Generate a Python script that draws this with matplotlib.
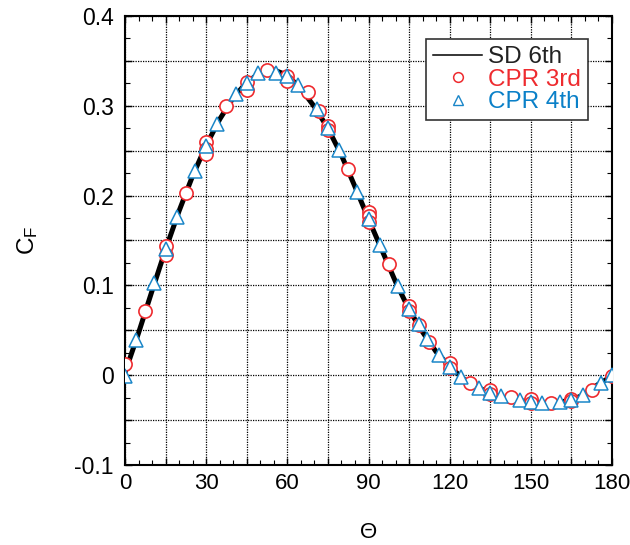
import matplotlib
matplotlib.use("Agg")
import matplotlib.pyplot as plt
from matplotlib.lines import Line2D
from matplotlib.ticker import MultipleLocator
import numpy as np

plt.rcParams['font.family'] = ['Liberation Sans', 'DejaVu Sans']
plt.rcParams['mathtext.fontset'] = 'custom'
plt.rcParams['mathtext.rm'] = 'Liberation Sans'
plt.rcParams['mathtext.it'] = 'Liberation Sans'

# SD 6th reference curve
sd_theta = [0, 5, 10, 15, 20, 25, 30, 35, 40, 45, 50, 55, 60, 65, 70, 75, 80, 85, 90,
            95, 100, 105, 110, 115, 120, 125, 130, 135, 140, 145, 150, 155, 160, 165,
            170, 175, 180]
sd_vals = [0.003, 0.047, 0.094, 0.140, 0.183, 0.222, 0.256, 0.285, 0.309, 0.326, 0.337,
           0.340, 0.334, 0.319, 0.299, 0.275, 0.245, 0.210, 0.174, 0.139, 0.104, 0.073,
           0.048, 0.026, 0.010, -0.004, -0.013, -0.020, -0.025, -0.028, -0.030, -0.031,
           -0.030, -0.028, -0.021, -0.010, -0.001]

# CPR 3rd
c_theta = [0, 7.5, 15, 15, 22.5, 30, 30, 30, 37.5, 45, 45, 52.5, 60, 60, 67.5, 71.7,
           75, 75, 82.5, 90, 90, 90, 97.5, 105, 105, 108.5, 112.5, 120, 120, 127.5,
           135, 135, 142.5, 150, 150, 157.5, 165, 165, 172.5, 180]
c_vals = [0.012, 0.071, 0.144, 0.134, 0.203, 0.260, 0.252, 0.246, 0.300, 0.326, 0.318,
          0.340, 0.333, 0.328, 0.315, 0.294, 0.277, 0.273, 0.230, 0.182, 0.177, 0.171,
          0.124, 0.077, 0.071, 0.056, 0.037, 0.014, 0.008, -0.0085, -0.016, -0.021,
          -0.024, -0.027, -0.031, -0.031, -0.026, -0.029, -0.016, -0.001]

# CPR 4th
t_theta = [0, 4.1, 10.9, 15, 19.1, 25.9, 30, 34.1, 40.9, 45, 49.1, 55.9, 60, 64.1, 70.9,
           75, 79.1, 85.9, 90, 94.1, 100.9, 105, 108.5, 111.8, 115.9, 120, 124.1, 130.9,
           135, 139.1, 145.9, 150, 154.1, 160.9, 165, 169.1, 175.9, 180]
t_vals = [-0.001, 0.039, 0.103, 0.140, 0.176, 0.227, 0.255, 0.2795, 0.313, 0.325, 0.337,
          0.337, 0.333, 0.323, 0.296, 0.275, 0.2505, 0.204, 0.174, 0.145, 0.0995, 0.074,
          0.057, 0.040, 0.022, 0.009, -0.002, -0.014, -0.020, -0.023, -0.028, -0.030,
          -0.031, -0.030, -0.028, -0.022, -0.009, 0.000]

xticks = [0, 30, 60, 90, 120, 150, 180]
yticks = [-0.1, 0, 0.1, 0.2, 0.3, 0.4]

RED = '#ee2b2f'
BLUE = '#1a86c8'

fig = plt.figure(figsize=(6.3, 5.45), dpi=100)
ax = fig.add_axes([125/630, 1-465/545, (612-125)/630, (465-16)/545])

ax.plot(sd_theta, sd_vals, color='black', lw=3.6, zorder=3, solid_capstyle='butt')
ax.plot(c_theta, c_vals, ls='none', marker='o', ms=9.5, mfc='white', mec=RED, mew=1.2, zorder=4)
ax.plot(t_theta, t_vals, ls='none', marker='^', ms=9.5, mfc='white', mec=BLUE, mew=1.1, zorder=5)

ax.set_xlim(0, 180)
ax.set_ylim(-0.1, 0.4)
ax.xaxis.set_major_locator(MultipleLocator(15))
ax.yaxis.set_major_locator(MultipleLocator(0.05))
ax.xaxis.set_minor_locator(MultipleLocator(5))
ax.yaxis.set_minor_locator(MultipleLocator(0.025))
ax.set_xticklabels([str(int(v)) if int(round(v)) in xticks else '' for v in ax.get_xticks()])
ylabs = []
for v in ax.get_yticks():
    r = round(v, 3)
    match = [t for t in yticks if abs(t - r) < 1e-6]
    ylabs.append(('0' if match[0] == 0 else f'{match[0]:g}') if match else '')
ax.set_yticklabels(ylabs)

ax.tick_params(which='both', direction='in', top=True, right=True, colors='black')
ax.tick_params(which='major', length=5, width=1)
ax.tick_params(which='minor', length=3.5, width=0.8)
ax.tick_params(axis='x', pad=6, labelsize=16)
ax.tick_params(axis='y', pad=8, labelsize=16.5)
ax.grid(True, which='major', color='black', ls=(0, (1, 1)), lw=0.9)
for s in ax.spines.values():
    s.set_linewidth(1.5)

ax.set_xlabel('Θ', fontsize=16)
ax.xaxis.set_label_coords(0.5, -0.127)
ax.set_ylabel('$\\mathrm{C_F}$', fontsize=17.5)
ax.yaxis.set_label_coords(-0.175, 0.5)

handles = [Line2D([], [], color='black', lw=1.1),
           Line2D([], [], ls='none', marker='o', ms=7, mfc='white', mec=RED, mew=1.1),
           Line2D([], [], ls='none', marker='^', ms=7, mfc='white', mec=BLUE, mew=1.0)]
leg = ax.legend(handles, ['SD 6th', 'CPR 3rd', 'CPR 4th'], loc='upper right',
                bbox_to_anchor=(0.951, 0.949), fontsize=17.5, frameon=True, fancybox=False,
                edgecolor='#333333', framealpha=1, handlelength=2.0, handletextpad=0.25,
                borderpad=0.3, labelspacing=0.02, borderaxespad=0)
leg.get_frame().set_linewidth(1.2)
for t, c in zip(leg.get_texts(), ['#222222', RED, '#0a80c8']):
    t.set_color(c)

fig.savefig('out.png', dpi=100)
